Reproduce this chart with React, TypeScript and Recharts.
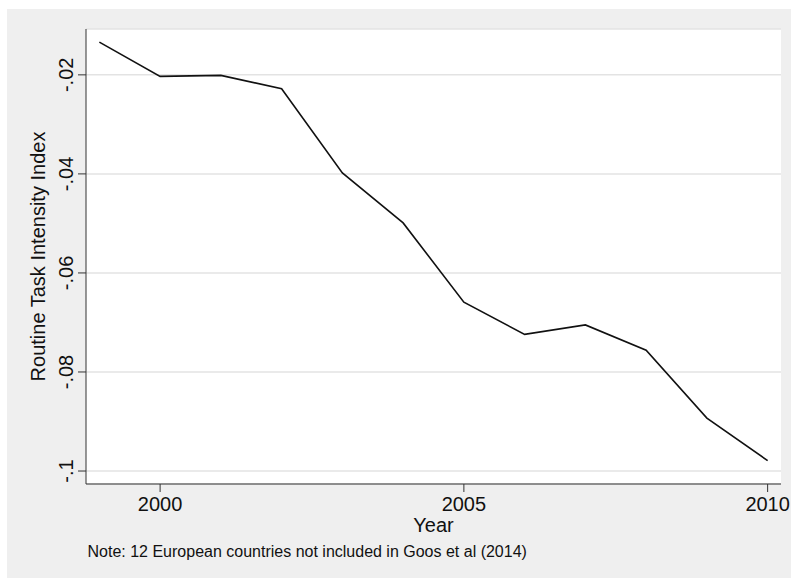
import React from 'react';
import { LineChart, Line, XAxis, YAxis, CartesianGrid, Label } from 'recharts';

// values
const years = [1999, 2000, 2001, 2002, 2003, 2004, 2005, 2006, 2007, 2008, 2009, 2010];
const rti = [-0.0134, -0.0203, -0.0201, -0.0228, -0.0398, -0.0499, -0.0659, -0.0724, -0.0705, -0.0756, -0.0893, -0.0979];

const xTicks = [2000, 2005, 2010];
const yTicks = [-0.1, -0.08, -0.06, -0.04, -0.02];

const FONT = '"Liberation Sans", Arial, sans-serif';

const data = years.map((year, i) => ({ year, rti: rti[i] }));

// Stata style: "-.02" instead of "-0.02"
const fmtY = (v: number) => String(Number(v.toFixed(2))).replace('0.', '.');

const XTick = (props: any) => {
  const { x, y, payload } = props;
  return (
    <text x={x} y={y} dy={17} textAnchor="middle" fontSize={20} fontFamily={FONT} fill="#111">
      {payload.value}
    </text>
  );
};

const YTick = (props: any) => {
  const { x, y, payload } = props;
  const bx = x - 2.5;
  return (
    <text
      x={bx}
      y={y}
      transform={`rotate(-90, ${bx}, ${y})`}
      textAnchor="middle"
      fontSize={20}
      fontFamily={FONT}
      fill="#111"
    >
      {fmtY(payload.value)}
    </text>
  );
};

const YTitle = (props: any) => {
  const vb = props.viewBox || {};
  const cy = vb.y + vb.height / 2;
  return (
    <text
      x={45}
      y={cy}
      transform={`rotate(-90, 45, ${cy})`}
      textAnchor="middle"
      fontSize={20}
      fontFamily={FONT}
      fill="#111"
    >
      Routine Task Intensity Index
    </text>
  );
};

const XTitle = (props: any) => {
  const vb = props.viewBox || {};
  const cx = vb.x + vb.width / 2;
  return (
    <g>
      <text x={cx} y={vb.y + 48} textAnchor="middle" fontSize={20} fontFamily={FONT} fill="#111">
        Year
      </text>
      <text x={vb.x + 1.5} y={vb.y + 73} textAnchor="start" fontSize={16} fontFamily={FONT} fill="#111">
        Note: 12 European countries not included in Goos et al (2014)
      </text>
    </g>
  );
};

export default function App() {
  return (
    <div style={{ position: 'absolute', left: 0, top: 0, width: 791, height: 578, background: '#fff' }}>
      <div style={{ position: 'absolute', left: 7, top: 9, width: 784, height: 569, background: '#efefef' }} />
      <div style={{ position: 'absolute', left: 0, top: 0 }}>
        <LineChart width={791} height={578} data={data} margin={{ top: 29, right: 10, bottom: 0, left: 0 }}>
          <CartesianGrid vertical={false} fill="#fff" stroke="#e3e3e3" strokeWidth={1.5} />
          <XAxis
            dataKey="year"
            type="number"
            domain={[1998.78, 2010.22]}
            ticks={xTicks}
            height={94}
            tickSize={8}
            tickMargin={2}
            stroke="#333"
            tick={XTick}
            allowDataOverflow
          >
            <Label content={XTitle} />
          </XAxis>
          <YAxis
            type="number"
            domain={[-0.10262, -0.01074]}
            ticks={yTicks}
            width={86}
            tickSize={8}
            tickMargin={2}
            stroke="#333"
            tick={YTick}
            allowDataOverflow
          >
            <Label content={YTitle} />
          </YAxis>
          <Line
            type="linear"
            dataKey="rti"
            stroke="#111"
            strokeWidth={1.6}
            dot={false}
            isAnimationActive={false}
          />
        </LineChart>
      </div>
    </div>
  );
}
